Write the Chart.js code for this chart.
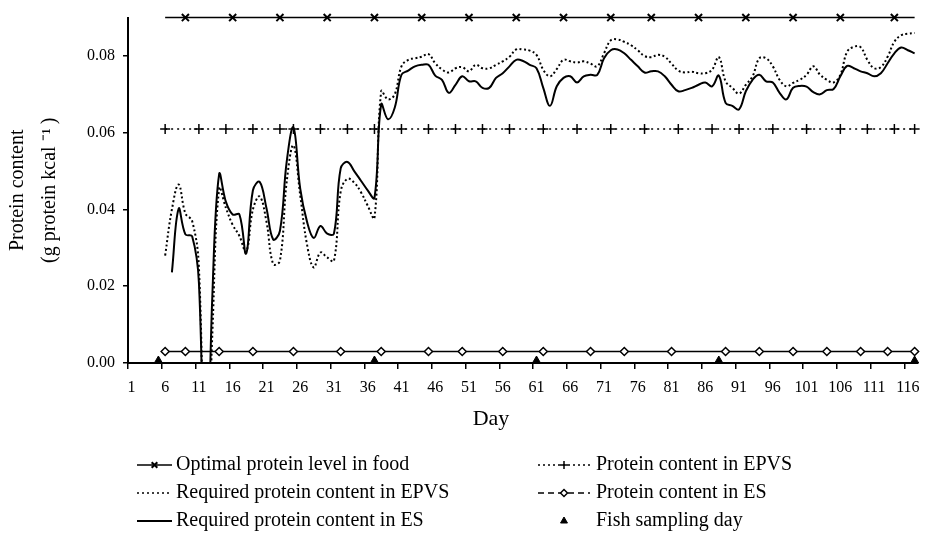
<!DOCTYPE html>
<html>
<head>
<meta charset="utf-8">
<title>Protein content</title>
<script src="https://cdn.jsdelivr.net/npm/chart.js@4.4.1/dist/chart.umd.min.js"></script>
<style>
  html, body { margin: 0; padding: 0; background: #fff; }
  #wrap { width: 926px; height: 541px; }
</style>
</head>
<body>
<div id="wrap"><canvas id="proteinChart" width="926" height="541"></canvas></div>
<script>
const lastDay = 117;
const yTicks = [0, 0.02, 0.04, 0.06, 0.08];

// constant levels (g protein per kcal)
const optimalLevel = 0.09;
const epvsLevel = 0.061;
const esLevel = 0.003;
const levelStartDay = 6;

// days carrying a marker on the constant lines
const optimalMarkDays = [9, 16, 23, 30, 37, 44, 51, 58, 65, 72, 78, 85, 92, 99, 106, 114];
const epvsMarkDays = [6, 11, 15, 19, 23, 25, 29, 33, 37, 41, 45, 49, 53, 57, 62, 67, 72, 77, 82, 87, 91, 96, 101, 106, 110, 114, 117];
const esMarkDays = [6, 9, 14, 19, 25, 32, 38, 45, 50, 56, 62, 69, 74, 81, 89, 94, 99, 104, 109, 113, 117];

// required protein content in EPVS, day 6 onwards
const reqEpvsStart = 6;
const reqEpvs = [
  0.028, 0.040, 0.0465, 0.039, 0.037, 0.025, -0.04, 0.008, 0.0455, 0.0404,
  0.036, 0.0331, 0.029, 0.040, 0.0434, 0.0369, 0.0258, 0.0266, 0.0472, 0.0567,
  0.0438, 0.031, 0.0249, 0.0288, 0.0275, 0.0266, 0.0447, 0.048, 0.047, 0.0445,
  0.041, 0.0378, 0.0708, 0.0687, 0.070, 0.0773, 0.079, 0.0794, 0.0798, 0.0805,
  0.0781, 0.0765, 0.0757, 0.0768, 0.0771, 0.076, 0.0777, 0.0768, 0.0768, 0.0777,
  0.0786, 0.0798, 0.0817, 0.0817, 0.0814, 0.0803, 0.0764, 0.0747, 0.0766, 0.079,
  0.0786, 0.0783, 0.0786, 0.078, 0.0773, 0.0807, 0.0841, 0.0843, 0.0837, 0.0828,
  0.0815, 0.080, 0.0797, 0.0803, 0.0798, 0.078, 0.0762, 0.0757, 0.0759, 0.0755,
  0.0755, 0.0764, 0.0797, 0.0734, 0.0717, 0.0702, 0.0725, 0.0747, 0.0794, 0.0794,
  0.0773, 0.0738, 0.0721, 0.073, 0.0738, 0.0751, 0.0773, 0.0751, 0.0738, 0.0731,
  0.0751, 0.0811, 0.0824, 0.0823, 0.079, 0.0768, 0.0771, 0.0798, 0.0837, 0.0854,
  0.0858, 0.086
];

// required protein content in ES, day 7 onwards
const reqEsStart = 7;
const reqEs = [
  0.0236, 0.0402, 0.0335, 0.033, 0.021, -0.04, 0.018, 0.0492, 0.042, 0.0387,
  0.0387, 0.0285, 0.045, 0.0472, 0.0404, 0.0322, 0.0344, 0.0524, 0.0614, 0.0455,
  0.0369, 0.0326, 0.0357, 0.0337, 0.0337, 0.0507, 0.0524, 0.050, 0.0475, 0.045,
  0.043, 0.0674, 0.0635, 0.0665, 0.0751, 0.0762, 0.0773, 0.0777, 0.0777, 0.0749,
  0.0738, 0.0704, 0.0725, 0.0747, 0.0734, 0.0734, 0.0717, 0.0717, 0.0743, 0.0755,
  0.0773, 0.079, 0.0787, 0.0777, 0.0768, 0.0717, 0.067, 0.0721, 0.0743, 0.0747,
  0.0731, 0.0747, 0.0751, 0.0751, 0.0794, 0.0815, 0.0817, 0.0807, 0.079, 0.0773,
  0.0757, 0.076, 0.076, 0.0747, 0.0725, 0.0708, 0.0711, 0.0717, 0.0725, 0.0731,
  0.0721, 0.0749, 0.0678, 0.067, 0.0661, 0.0708, 0.0738, 0.0751, 0.0734, 0.0731,
  0.0704, 0.0687, 0.0717, 0.0722, 0.072, 0.0706, 0.070, 0.0711, 0.0714, 0.0747,
  0.0774, 0.0768, 0.076, 0.0755, 0.0747, 0.0755, 0.0781, 0.0807, 0.0822, 0.0815,
  0.0807
];

const samplingDays = [5, 37, 61, 88, 117];

const days = [];
for (let d = 1; d <= lastDay; d++) days.push(d);

// place a run of values on the day axis, starting at a given day
function fromDay(start, values) {
  return days.map(d => (d >= start && d - start < values.length) ? values[d - start] : null);
}
function level(start, value) {
  return days.map(d => d >= start ? value : null);
}
function onDays(list, value) {
  return days.map(d => list.includes(d) ? value : null);
}
function markEvery(list, r) {
  return ctx => list.includes(ctx.dataIndex + 1) ? r : 0;
}

const serif = "'Liberation Serif', 'Times New Roman', serif";

// legend drawn under the plot, two columns of samples
const sampleLegend = {
  id: 'sampleLegend',
  afterDraw(chart, args, opts) {
    const ctx = chart.ctx;
    ctx.save();
    ctx.font = opts.font;
    ctx.textBaseline = 'middle';
    opts.items.forEach(it => {
      const ds = chart.data.datasets[it.ds];
      const col = opts.columns[it.col];
      const y = opts.top + it.row * opts.rowGap;
      ctx.strokeStyle = '#000';
      if (!it.noLine) {
        ctx.lineWidth = it.lineWidth || ds.borderWidth;
        ctx.setLineDash(it.dash || ds.borderDash || []);
        ctx.beginPath();
        ctx.moveTo(col.x0, y);
        ctx.lineTo(col.x1, y);
        ctx.stroke();
        ctx.setLineDash([]);
      }
      if (it.point) {
        ctx.fillStyle = ds.pointBackgroundColor || '#000';
        ctx.lineWidth = ds.pointBorderWidth || 1;
        Chart.helpers.drawPoint(ctx, {
          pointStyle: ds.pointStyle, radius: it.point, rotation: 0, borderWidth: ctx.lineWidth
        }, (col.x0 + col.x1) / 2, y);
      }
      ctx.fillStyle = '#000';
      ctx.fillText(ds.label, col.text, y);
    });
    const t = opts.xTitle;
    ctx.font = t.font;
    ctx.textAlign = 'center';
    ctx.fillText(t.text, t.x, t.y);
    ctx.restore();
  }
};

new Chart(document.getElementById('proteinChart'), {
  type: 'line',
  data: {
    labels: days,
    datasets: [
      {
        label: 'Optimal protein level in food',
        data: level(levelStartDay, optimalLevel),
        borderColor: '#000', borderWidth: 1.5,
        pointStyle: 'crossRot', pointRadius: markEvery(optimalMarkDays, 5),
        pointBorderColor: '#000', pointBorderWidth: 2,
        clip: false
      },
      {
        label: 'Protein content in EPVS',
        data: level(levelStartDay, epvsLevel),
        borderColor: '#000', borderWidth: 1.5, borderDash: [2, 4],
        pointStyle: 'cross', pointRadius: markEvery(epvsMarkDays, 5),
        pointBorderColor: '#000', pointBorderWidth: 1.5
      },
      {
        label: 'Required protein content in EPVS',
        data: fromDay(reqEpvsStart, reqEpvs),
        borderColor: '#000', borderWidth: 2, borderDash: [2, 2.5],
        tension: 0.4, pointRadius: 0
      },
      {
        label: 'Protein content in ES',
        data: level(levelStartDay, esLevel),
        borderColor: '#000', borderWidth: 1.5,
        pointStyle: 'rectRot', pointRadius: markEvery(esMarkDays, 4),
        pointBackgroundColor: '#fff', pointBorderColor: '#000', pointBorderWidth: 1.5
      },
      {
        label: 'Required protein content in ES',
        data: fromDay(reqEsStart, reqEs),
        borderColor: '#000', borderWidth: 2,
        tension: 0.4, pointRadius: 0
      },
      {
        label: 'Fish sampling day',
        data: onDays(samplingDays, 0),
        showLine: false,
        pointStyle: 'triangle', pointRadius: 7,
        pointBackgroundColor: '#000', pointBorderColor: '#000', pointBorderWidth: 1
      }
    ]
  },
  options: {
    responsive: false,
    animation: false,
    events: [],
    layout: { autoPadding: false, padding: { top: 13, right: 8, bottom: 0, left: 0 } },
    scales: {
      x: {
        type: 'category',
        offset: true,
        afterFit: s => { s.height = 541 - 363; },
        border: { color: '#000', width: 2 },
        grid: {
          offset: true, drawOnChartArea: false, tickLength: 6, lineWidth: 1.5,
          tickColor: c => c.index % 5 === 0 ? '#000' : 'rgba(0,0,0,0)'
        },
        ticks: {
          autoSkip: false, maxRotation: 0, minRotation: 0, padding: 9, color: '#000',
          font: { family: serif, size: 16 },
          callback: (v, i) => i % 5 === 0 ? String(days[i]) : ''
        }
      },
      y: {
        min: 0, max: 0.09,
        afterFit: s => { s.width = 128; },
        afterBuildTicks: s => { s.ticks = yTicks.map(v => ({ value: v })); },
        border: { color: '#000', width: 2 },
        grid: { drawOnChartArea: false, tickLength: 5, lineWidth: 1.5, color: '#000' },
        ticks: {
          padding: 8, color: '#000', font: { family: serif, size: 16 },
          callback: v => v.toFixed(2)
        },
        title: {
          display: true,
          text: ['Protein content', '(g protein kcal \u207B\u00B9\u2009)'],
          color: '#000',
          font: { family: serif, size: 20, lineHeight: 1.6 },
          padding: { top: 2, bottom: 0 }
        }
      }
    },
    plugins: {
      legend: { display: false },
      tooltip: { enabled: false },
      sampleLegend: {
        font: '20px ' + serif,
        top: 465, rowGap: 28,
        columns: [
          { x0: 137, x1: 172, text: 176 },
          { x0: 538, x1: 590, text: 596 }
        ],
        items: [
          { ds: 0, col: 0, row: 0, point: 4 },
          { ds: 1, col: 1, row: 0, point: 4, dash: [2, 3] },
          { ds: 2, col: 0, row: 1, dash: [2, 3], lineWidth: 1.5 },
          { ds: 3, col: 1, row: 1, point: 3.5, dash: [6, 4] },
          { ds: 4, col: 0, row: 2 },
          { ds: 5, col: 1, row: 2, point: 4, noLine: true }
        ],
        xTitle: { text: 'Day', x: 491, y: 419, font: '22px ' + serif }
      }
    }
  },
  plugins: [sampleLegend]
});
</script>
</body>
</html>
